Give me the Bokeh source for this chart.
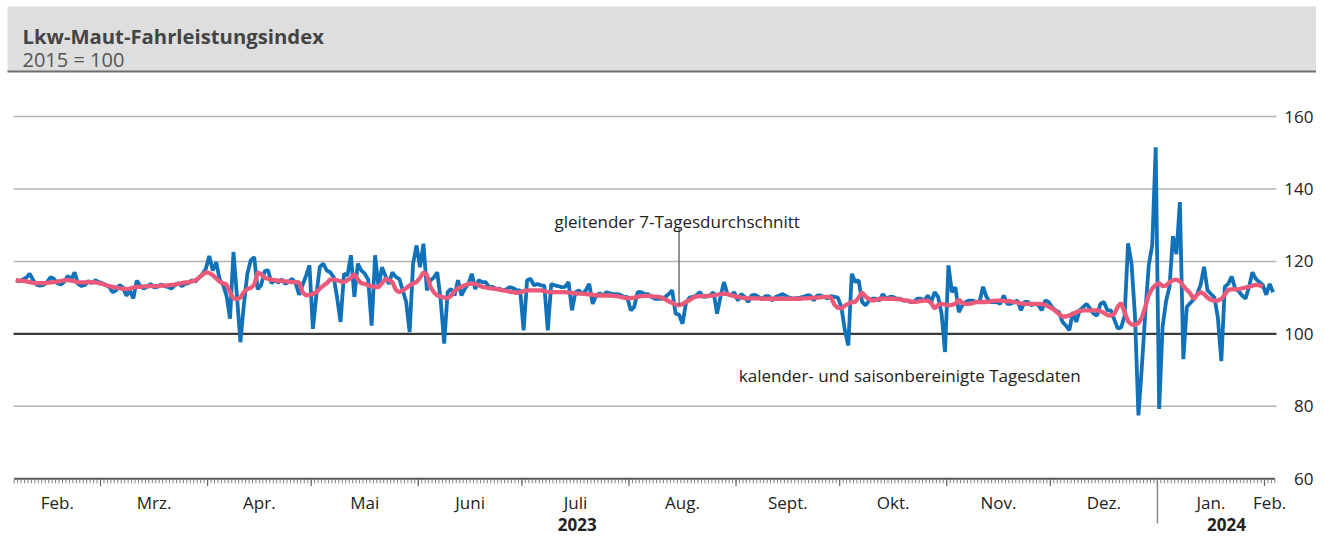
import numpy as np
import pandas as pd
from bokeh.plotting import figure
from bokeh.models import Range1d
from bokeh.core.properties import value
from bokeh.embed import file_html
from bokeh.resources import INLINE

# ---------------- texts ----------------
TITLE = "Lkw-Maut-Fahrleistungsindex"
SUBTITLE = "2015 = 100"
LABEL_MA = "gleitender 7-Tagesdurchschnitt"
LABEL_DAILY = "kalender- und saisonbereinigte Tagesdaten"
MONTH_LABELS = ["Feb.", "Mrz.", "Apr.", "Mai", "Juni", "Juli", "Aug.", "Sept.",
                "Okt.", "Nov.", "Dez.", "Jan.", "Feb."]
YEAR_LABELS = ["2023", "2024"]
Y_TICKS = [60, 80, 100, 120, 140, 160]

# ---------------- data (daily, 2023-02-04 .. 2024-02-03) ----------------
START = "2023-02-04"
END = "2024-02-03"

daily_feb23 = [114.8, 114.5, 115.0, 115.5, 116.6, 114.8, 113.6, 113.3, 113.5, 114.2, 115.6, 115.2, 114.0,
               113.6, 114.4, 116.0, 115.0, 117.0, 113.8, 113.2, 113.5, 114.6, 114.0, 114.8, 114.3]
daily_mar23 = [114.0, 113.5, 113.0, 111.5, 112.0, 113.5, 112.8, 110.5, 112.0, 109.8, 114.7, 113.2, 112.5,
               113.0, 113.8, 112.8, 113.0, 113.6, 113.2, 113.0, 112.5, 113.4, 114.0, 113.2, 113.8, 114.0,
               114.8, 114.5, 115.5, 116.5, 118.0]
daily_apr23 = [121.5, 117.5, 119.8, 115.0, 113.5, 110.5, 104.2, 122.6, 110.5, 97.7, 108.0, 116.5, 120.3,
               121.2, 112.3, 113.5, 117.3, 117.6, 114.0, 114.8, 114.2, 115.0, 113.8, 114.4, 115.2, 114.0,
               110.8, 113.5, 116.0, 118.9]
daily_may23 = [101.4, 110.8, 118.5, 119.4, 117.5, 117.0, 115.7, 110.0, 103.3, 116.6, 116.1, 121.7, 110.2,
               119.4, 117.5, 116.6, 115.0, 102.3, 121.7, 112.9, 118.4, 116.0, 113.8, 117.0, 115.7, 115.2,
               112.0, 108.8, 100.5, 119.4, 124.4]
daily_jun23 = [118.4, 124.9, 112.0, 114.8, 115.5, 117.0, 109.2, 97.3, 111.5, 112.4, 110.6, 114.8, 110.6,
               112.5, 113.8, 116.6, 112.4, 114.8, 114.3, 114.3, 112.9, 113.0, 112.4, 112.5, 112.0, 112.3,
               112.9, 112.6, 112.0, 112.0]
daily_jul23 = [101.0, 114.8, 115.2, 113.4, 113.8, 113.4, 113.3, 101.0, 113.8, 113.4, 113.2, 112.9, 113.0,
               114.3, 106.5, 111.5, 112.0, 111.0, 112.0, 113.8, 108.3, 110.6, 111.2, 110.6, 111.5, 111.2,
               111.0, 111.0, 110.8, 110.2, 110.2]
daily_aug23 = [106.5, 107.4, 111.5, 111.5, 111.0, 111.0, 110.2, 109.7, 109.7, 109.7, 110.2, 111.0, 112.0,
               105.6, 105.3, 102.8, 108.5, 110.0, 110.2, 110.6, 111.5, 110.2, 110.3, 110.6, 111.5, 105.6,
               110.2, 114.3, 111.0, 110.6, 111.5]
daily_sep23 = [109.2, 111.0, 110.2, 108.8, 110.6, 110.8, 110.2, 109.6, 110.4, 110.4, 109.2, 110.2, 110.6,
               111.0, 110.4, 110.0, 109.7, 109.9, 110.0, 110.2, 110.6, 110.6, 109.2, 110.6, 110.6, 110.2,
               109.8, 110.4, 110.2, 110.0]
daily_oct23 = [107.4, 101.0, 96.8, 116.6, 114.3, 114.8, 108.8, 107.9, 109.2, 109.7, 109.7, 109.2, 111.0,
               109.7, 110.2, 110.2, 109.7, 109.7, 109.2, 109.2, 108.8, 108.8, 109.7, 109.7, 109.2, 110.6,
               108.8, 111.5, 110.2, 105.6, 95.0]
daily_nov23 = [118.9, 111.5, 112.9, 106.0, 107.9, 108.8, 109.2, 109.2, 108.8, 108.8, 113.0, 110.2, 108.8,
               108.8, 108.8, 108.3, 110.6, 108.3, 108.3, 108.8, 109.2, 106.5, 108.8, 108.8, 107.9, 108.3,
               108.0, 106.5, 109.2, 108.8]
daily_dec23 = [107.4, 106.5, 106.0, 103.3, 102.3, 101.0, 106.0, 103.3, 106.5, 107.4, 108.3, 107.0, 105.6,
               105.0, 108.3, 108.8, 106.5, 106.5, 104.0, 101.5, 101.8, 105.0, 125.0, 119.4, 105.0, 77.5,
               91.0, 106.0, 119.0, 124.5, 151.5]
daily_jan24 = [79.3, 102.0, 109.0, 113.0, 127.0, 122.0, 136.4, 93.0, 107.4, 108.5, 109.5, 111.0, 113.5,
               118.5, 112.0, 111.0, 110.0, 104.5, 92.5, 113.0, 113.8, 115.8, 112.5, 111.8, 110.6, 109.7,
               112.9, 117.0, 115.2, 114.3, 113.5]
daily_feb24 = [110.8, 113.8, 111.5]

ma7_feb23 = [114.8, 114.7, 114.6, 114.5, 114.3, 114.1, 114.0, 114.0, 114.0, 114.1, 114.2, 114.3, 114.4,
             114.6, 114.8, 114.9, 114.7, 114.5, 114.3, 114.2, 114.2, 114.3, 114.3, 114.2, 114.0]
ma7_mar23 = [113.8, 113.5, 113.2, 113.0, 112.8, 112.6, 112.4, 112.4, 112.5, 112.8, 113.0, 113.0, 113.1,
             113.1, 113.2, 113.2, 113.2, 113.3, 113.3, 113.4, 113.5, 113.6, 113.8, 114.0, 114.2, 114.3,
             114.5, 114.8, 115.5, 116.3, 117.0]
ma7_apr23 = [116.8, 116.2, 115.3, 114.4, 114.0, 113.6, 111.5, 109.8, 109.6, 110.0, 111.5, 112.4, 112.7,
             113.5, 117.0, 116.5, 115.5, 115.2, 115.0, 114.8, 114.7, 114.6, 114.5, 114.4, 114.3, 114.3,
             114.2, 111.5, 110.6, 110.8]
ma7_may23 = [111.0, 111.5, 112.5, 113.3, 114.0, 115.0, 115.0, 114.8, 114.5, 114.3, 114.8, 115.5, 116.5,
             115.0, 114.0, 113.8, 113.4, 113.2, 112.9, 112.9, 114.0, 115.2, 114.8, 114.3, 112.2, 111.5,
             112.0, 112.6, 113.4, 113.9, 114.3]
ma7_jun23 = [115.5, 117.0, 116.3, 113.0, 111.5, 110.6, 110.3, 110.0, 109.8, 110.5, 111.8, 112.6, 113.0,
             113.4, 113.8, 113.9, 113.8, 113.4, 113.0, 112.8, 112.6, 112.5, 112.4, 112.2, 112.0, 111.9,
             111.6, 111.5, 111.3, 111.5]
ma7_jul23 = [111.8, 112.0, 112.0, 112.0, 112.0, 112.0, 111.8, 111.6, 111.5, 111.5, 111.5, 111.5, 111.5,
             111.4, 111.3, 111.2, 111.1, 111.1, 111.0, 110.9, 110.8, 110.6, 110.6, 110.6, 110.6, 110.6,
             110.5, 110.4, 110.2, 110.0, 109.8]
ma7_aug23 = [109.9, 110.0, 110.2, 110.4, 110.5, 110.5, 110.4, 110.3, 110.2, 110.0, 109.5, 109.0, 108.6,
             108.1, 107.9, 108.2, 108.8, 109.3, 110.0, 110.3, 110.4, 110.4, 110.5, 110.5, 110.6, 110.8,
             111.0, 111.1, 111.0, 110.7, 110.4]
ma7_sep23 = [110.2, 110.0, 109.9, 109.8, 109.8, 109.8, 109.8, 109.7, 109.7, 109.7, 109.7, 109.7, 109.7,
             109.7, 109.7, 109.7, 109.7, 109.7, 109.7, 109.8, 109.8, 109.9, 110.0, 110.0, 110.1, 110.2,
             110.2, 110.0, 108.0, 107.2]
ma7_oct23 = [107.0, 107.8, 108.3, 108.8, 108.8, 110.0, 111.5, 110.3, 109.6, 109.2, 109.4, 109.7, 109.7,
             109.7, 109.7, 109.7, 109.6, 109.5, 109.3, 109.2, 109.0, 108.8, 108.9, 109.1, 109.2, 109.2,
             108.5, 107.0, 108.0, 108.3, 108.1]
ma7_nov23 = [107.9, 108.0, 108.3, 109.5, 108.5, 108.3, 108.3, 108.5, 108.8, 108.8, 108.8, 108.8, 109.0,
             109.1, 109.2, 109.2, 109.1, 109.0, 109.0, 108.8, 108.6, 108.4, 108.3, 108.3, 108.3, 108.3,
             108.3, 108.2, 108.0, 107.5]
ma7_dec23 = [107.0, 106.3, 105.5, 104.8, 104.8, 105.1, 105.5, 106.0, 106.3, 106.5, 106.5, 106.5, 106.5,
             106.5, 106.3, 105.8, 105.2, 105.0, 105.5, 107.5, 108.5, 106.0, 103.5, 102.6, 102.4, 103.0,
             104.5, 107.5, 110.8, 112.5, 113.5]
ma7_jan24 = [114.0, 113.2, 113.3, 114.3, 114.8, 115.0, 114.5, 113.2, 112.2, 111.2, 109.6, 110.8, 111.5,
             111.0, 110.0, 109.4, 109.2, 109.2, 109.6, 110.8, 112.2, 112.3, 112.3, 112.3, 112.6, 112.8,
             113.0, 113.3, 113.5, 113.4, 113.0]

daily = (daily_feb23 + daily_mar23 + daily_apr23 + daily_may23 + daily_jun23 + daily_jul23 +
         daily_aug23 + daily_sep23 + daily_oct23 + daily_nov23 + daily_dec23 + daily_jan24 + daily_feb24)
ma7 = (ma7_feb23 + ma7_mar23 + ma7_apr23 + ma7_may23 + ma7_jun23 + ma7_jul23 +
       ma7_aug23 + ma7_sep23 + ma7_oct23 + ma7_nov23 + ma7_dec23 + ma7_jan24)

dates = pd.date_range(START, END, freq="D")
t0 = dates[0]
day_pos = (dates - t0).days.values.astype(float) + 0.5       # each day plotted at its noon
x_daily = day_pos[:len(daily)]
x_ma = day_pos[:len(ma7)]

# month boundaries and label positions
axis_end = (pd.Timestamp(END) + pd.Timedelta(days=1) - t0).days
month_starts = [(d - t0).days for d in pd.date_range("2023-03-01", END, freq="MS")]
bounds = [0] + month_starts + [axis_end]
month_centers = [(a + b) / 2 for a, b in zip(bounds[:-1], bounds[1:])]
jan1 = (pd.Timestamp("2024-01-01") - t0).days
aug15 = (pd.Timestamp("2023-08-15") - t0).days

# ---------------- layout (window pixels -> data) ----------------
W, H = 1316, 541
X0_PX, PX_DAY = 13.65, 3.454
Y60_PX, PX_UNIT = 478.3, 3.623


def dx(px):
    return (px - X0_PX) / PX_DAY


def vy(py):
    return 60 + (Y60_PX - py) / PX_UNIT


BLUE = "#1172b9"
RED = "#ec5a7a"
FONT = value("Open Sans")

p = figure(width=W, height=H, output_backend="svg", toolbar_location=None,
           x_range=Range1d(dx(0), dx(W)), y_range=Range1d(vy(H), vy(0)),
           x_axis_type=None, y_axis_type=None, min_border=0, outline_line_color=None)
p.grid.visible = False
p.background_fill_color = "white"
p.border_fill_color = "white"

# header band
p.quad(left=[dx(7)], right=[dx(W)], top=[vy(6)], bottom=[vy(71)],
       fill_color="#dedede", line_color=None)
p.segment(x0=[dx(7)], x1=[dx(W)], y0=[vy(71)], y1=[vy(71)],
          line_color="#6e6e6e", line_width=2)
p.text(x=[dx(22)], y=[vy(35.7)], text=[TITLE], text_font=FONT, text_font_size="20.3px",
       text_font_style="bold", text_color="#444444", text_baseline="alphabetic", text_align="left")
p.text(x=[dx(22)], y=[vy(59)], text=[SUBTITLE], text_font=FONT, text_font_size="20px",
       text_color="#555555", text_baseline="alphabetic", text_align="left")

# gridlines
grid_vals = [v for v in Y_TICKS if v not in (60, 100)]
p.segment(x0=[dx(13)] * len(grid_vals), x1=[dx(1276)] * len(grid_vals), y0=grid_vals, y1=grid_vals,
          line_color="#b4b4b4", line_width=1.5)
p.segment(x0=[dx(13)], x1=[dx(1276)], y0=[100], y1=[100], line_color="#3a3a3a", line_width=2.2)

# y tick labels (right)
p.text(x=[dx(1313)] * len(Y_TICKS), y=Y_TICKS, text=[str(v) for v in Y_TICKS], text_font=FONT,
       text_font_size="17px", text_color="#222222", text_align="right", text_baseline="middle")

# series
p.line(x_daily, daily, line_color=BLUE, line_width=3.8)
p.line(x_ma, ma7, line_color=RED, line_width=4.3)

# x axis line and ticks
p.segment(x0=[0], x1=[axis_end], y0=[60], y1=[60], line_color="#555555", line_width=2)
days = np.arange(0, axis_end + 1)
p.segment(x0=days, x1=days, y0=[60] * len(days), y1=[vy(482.8)] * len(days),
          line_color="#808080", line_width=1)
p.segment(x0=month_starts, x1=month_starts, y0=[60] * len(month_starts),
          y1=[vy(485.5)] * len(month_starts), line_color="#666666", line_width=1.2)
p.segment(x0=[jan1], x1=[jan1], y0=[60], y1=[vy(523)], line_color="#8a8a8a", line_width=1.5)

p.text(x=month_centers, y=[vy(501.7)] * len(month_centers), text=MONTH_LABELS, text_font=FONT,
       text_font_size="17px", text_color="#222222", text_align="center", text_baseline="alphabetic")
p.text(x=[dx(576.7), dx(1226)], y=[vy(523.5)] * 2, text=YEAR_LABELS, text_font=FONT,
       text_font_size="17px", text_font_style="bold", text_color="#222222",
       text_align="center", text_baseline="alphabetic")

# annotations
lead_x = aug15 + 0.5
p.segment(x0=[lead_x], x1=[lead_x], y0=[vy(226.5)], y1=[ma7[aug15]], line_color="#666666",
          line_width=1.4)
p.text(x=[dx(676.7)], y=[vy(221)], text=[LABEL_MA], text_font=FONT, text_font_size="17px",
       text_color="#222222", text_align="center", text_baseline="alphabetic")
p.text(x=[dx(738.3)], y=[vy(375)], text=[LABEL_DAILY], text_font=FONT, text_font_size="17px",
       text_color="#222222", text_align="left", text_baseline="alphabetic")

open("out.html", "w").write(file_html(p, INLINE))
